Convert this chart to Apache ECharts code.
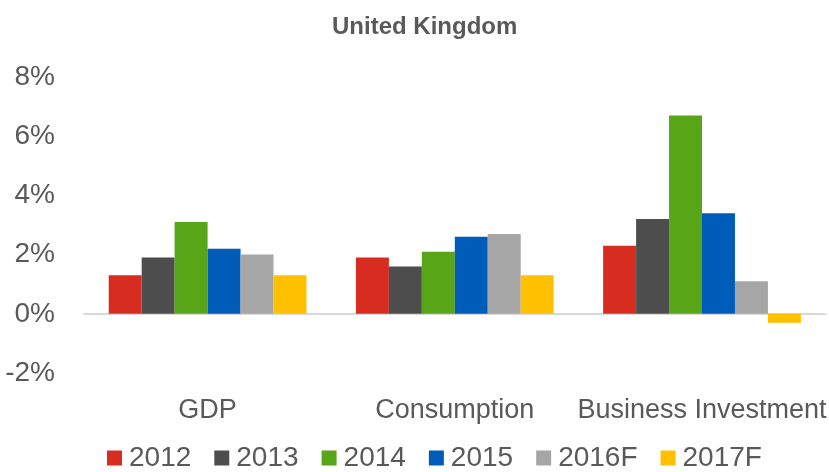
<!DOCTYPE html>
<html><head><meta charset="utf-8">
<script src="https://cdn.jsdelivr.net/npm/echarts@6/dist/echarts.min.js"></script>
<style>html,body{margin:0;padding:0;background:#fff}#c{width:829px;height:472px}</style>
</head><body><div id="c"></div>
<script>
const categories = ['GDP', 'Consumption', 'Business Investment'];
const seriesNames = ['2012', '2013', '2014', '2015', '2016F', '2017F'];
const v2012 = [1.3, 1.9, 2.3];
const v2013 = [1.9, 1.6, 3.2];
const v2014 = [3.1, 2.1, 6.7];
const v2015 = [2.2, 2.6, 3.4];
const v2016F = [2.0, 2.7, 1.1];
const v2017F = [1.3, 1.3, -0.3];
const colors = ['#D62D20', '#4D4D4D', '#58A618', '#005CB9', '#A6A6A6', '#FFC000'];
const values = [v2012, v2013, v2014, v2015, v2016F, v2017F];
const FONT = '"Liberation Sans Narrow", "Arial Narrow", "Liberation Sans", sans-serif';
const chart = echarts.init(document.getElementById('c'));
chart.setOption({
  animation: false,
  title: { text: 'United Kingdom', left: 327, top: 10,
    textStyle: { fontFamily: FONT, fontSize: 24, fontWeight: 'bold', color: '#595959' } },
  legend: { top: 444, left: 107, padding: 0, itemWidth: 15, itemHeight: 15, itemGap: 23,
    icon: 'rect', textStyle: { fontFamily: FONT, fontSize: 28, color: '#595959', padding: [0,0,0,2] } },
  grid: { left: 84, right: 0, top: 77, bottom: 99, containLabel: false },
  xAxis: { type: 'category', data: categories,
    axisLine: { show: true, onZero: true, lineStyle: { color: '#D9D9D9', width: 2 } },
    axisTick: { show: false },
    axisLabel: { interval: 0, fontFamily: FONT, fontSize: 27, color: '#595959', margin: 24 },
    position: 'bottom' },
  yAxis: { type: 'value', min: -2, max: 8, interval: 2,
    splitLine: { show: false }, axisLine: { show: false }, axisTick: { show: false },
    axisLabel: { fontFamily: FONT, fontSize: 28, color: '#595959', margin: 29,
      formatter: v => v + '%' } },
  series: seriesNames.map((n, i) => ({
    name: n, type: 'bar', data: values[i], barGap: '0%', barCategoryGap: '20%',
    itemStyle: { color: colors[i] }
  }))
});
</script></body></html>
